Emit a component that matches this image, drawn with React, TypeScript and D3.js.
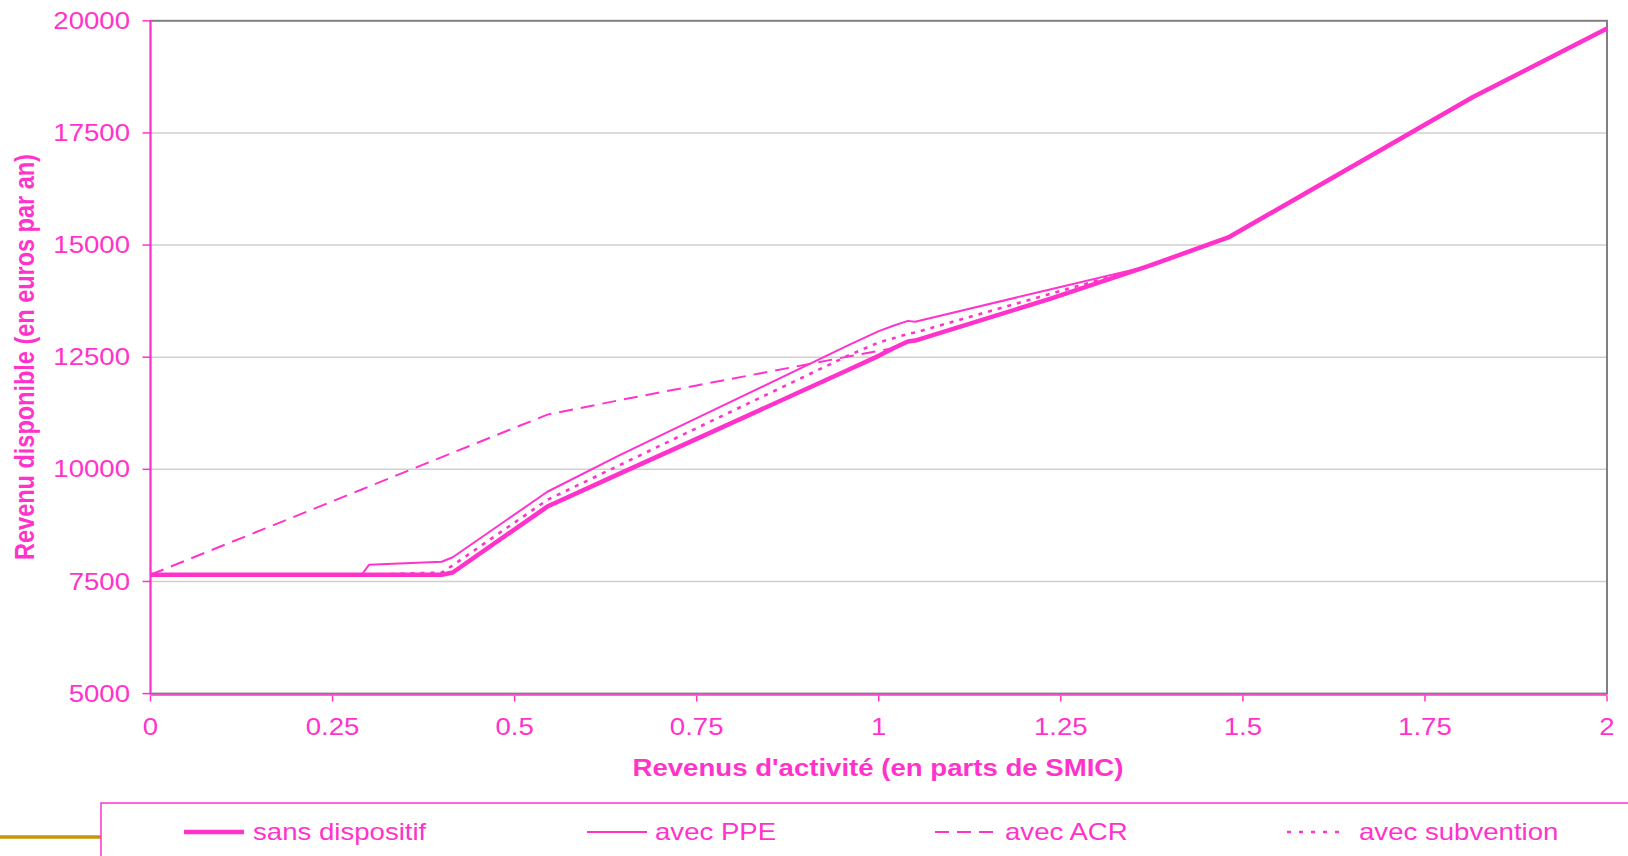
import React from "react";
import * as d3 from "d3";

// Revenus d'activité (en parts de SMIC)
const activite = [0, 0.29, 0.3, 0.4, 0.415, 0.545, 0.645, 0.75, 0.96, 1.0, 1.02, 1.04, 1.05, 1.235, 1.37, 1.48, 1.65, 1.816, 2.0];

// Revenu disponible (euros par an)
const sansDispositif = [7650, 7650, 7650, 7650, 7700, 9170, 9910, 10680, 12230, 12530, 12700, 12850, 12870, 13800, 14530, 15170, 16750, 18300, 19830];
const avecPPE = [7650, 7650, 7870, 7940, 8040, 9500, 10320, 11140, 12780, 13080, 13200, 13310, 13290, 14010, 14530, 15170, 16750, 18300, 19830];
const avecACR = [7650, 9551, 9617, 10272, 10371, 11220, 11545, 11870, 12520, 12640, 12700, 12850, 12870, 13800, 14530, 15170, 16750, 18300, 19830];
const avecSubvention = [7650, 7650, 7650, 7700, 7860, 9320, 10100, 10920, 12550, 12830, 12920, 13020, 13050, 13910, 14530, 15170, 16750, 18300, 19830];

const xTicks = [0, 0.25, 0.5, 0.75, 1, 1.25, 1.5, 1.75, 2];
const yTicks = [5000, 7500, 10000, 12500, 15000, 17500, 20000];

const seriesNames = ["sans dispositif", "avec PPE", "avec ACR", "avec subvention"];

const PINK = "#ff33cc";
const FONT = "'Liberation Sans', Arial, sans-serif";
const SX = 1.2; // horizontal stretch of text in the original picture

export default function App() {
  const left = 150.5, right = 1607, top = 20.8, bottom = 693.6;
  const x = d3.scaleLinear().domain([0, 2]).range([left, right]);
  const y = d3.scaleLinear().domain([5000, 20000]).range([bottom, top]);

  const mk = (vals: number[]) =>
    d3.line<number>().x((_, i) => x(activite[i])).y((v) => y(v))(vals) || "";

  const styles = [
    { w: 4.5, dash: undefined as string | undefined },
    { w: 2, dash: undefined },
    { w: 2, dash: "14,8" },
    { w: 2.6, dash: "4,6" },
  ];
  const series = [sansDispositif, avecPPE, avecACR, avecSubvention];

  const legendItems = [
    { lx: 184, tx: 253 },
    { lx: 587, tx: 655 },
    { lx: 935, tx: 1005 },
    { lx: 1287, tx: 1359 },
  ];

  const T = (px: number, py: number, s: string, anchor: string, size = 23, bold = false, key?: string) => (
    <g key={key} transform={`translate(${px},${py}) scale(${SX},1)`}>
      <text
        x={0}
        y={0}
        textAnchor={anchor as any}
        dominantBaseline="central"
        fontSize={size}
        fontWeight={bold ? "bold" : "normal"}
        fill={PINK}
      >
        {s}
      </text>
    </g>
  );

  return (
    <svg
      width={1628}
      height={856}
      style={{ position: "absolute", left: 0, top: 0, background: "#fff" }}
      fontFamily={FONT}
    >
      <rect x={0} y={0} width={1628} height={856} fill="#fff" />
      {/* gridlines */}
      {yTicks
        .filter((t) => t !== 5000 && t !== 20000)
        .map((t) => (
          <line key={"g" + t} x1={left} x2={right} y1={y(t)} y2={y(t)} stroke="#d0d0d0" strokeWidth={1.5} />
        ))}
      {/* plot border */}
      <rect x={left} y={top} width={right - left} height={bottom - top} fill="none" stroke="#808080" strokeWidth={2} />
      {/* axes */}
      <line x1={left} x2={left} y1={top} y2={bottom + 1} stroke={PINK} strokeWidth={1.5} />
      <line x1={left} x2={right} y1={bottom + 1.5} y2={bottom + 1.5} stroke={PINK} strokeWidth={1.5} />
      {yTicks.map((t) => (
        <g key={"y" + t}>
          <line x1={left - 8} x2={left} y1={y(t)} y2={y(t)} stroke={PINK} strokeWidth={1.5} />
          {T(130, y(t), String(t), "end")}
        </g>
      ))}
      {xTicks.map((t) => (
        <g key={"x" + t}>
          <line x1={x(t)} x2={x(t)} y1={bottom + 2} y2={bottom + 8} stroke={PINK} strokeWidth={1.5} />
          {T(x(t), 727, String(t), "middle")}
        </g>
      ))}
      {/* axis titles */}
      {T(878, 768, "Revenus d'activité (en parts de SMIC)", "middle", 23, true)}
      <g transform={`translate(24,357) scale(${SX},1) rotate(-90)`}>
        <text
          x={0}
          y={0}
          textAnchor="middle"
          dominantBaseline="central"
          fontSize={23.5}
          fontWeight="bold"
          fill={PINK}
        >
          Revenu disponible (en euros par an)
        </text>
      </g>
      {/* series */}
      {series.map((s, i) => (
        <path
          key={"s" + i}
          d={mk(s)}
          fill="none"
          stroke={PINK}
          strokeWidth={styles[i].w}
          strokeDasharray={styles[i].dash}
          strokeLinejoin="round"
        />
      ))}
      {/* legend */}
      <line x1={0} x2={101} y1={837} y2={837} stroke="#c8960a" strokeWidth={3.5} />
      <rect x={101} y={803} width={1560} height={80} fill="none" stroke={PINK} strokeWidth={1.5} />
      {seriesNames.map((n, i) => (
        <g key={"l" + i}>
          <line
            x1={legendItems[i].lx}
            x2={legendItems[i].lx + 60}
            y1={832}
            y2={832}
            stroke={PINK}
            strokeWidth={styles[i].w}
            strokeDasharray={i === 3 ? "4,8" : styles[i].dash}
          />
          {T(legendItems[i].tx, 832, n, "start")}
        </g>
      ))}
    </svg>
  );
}
